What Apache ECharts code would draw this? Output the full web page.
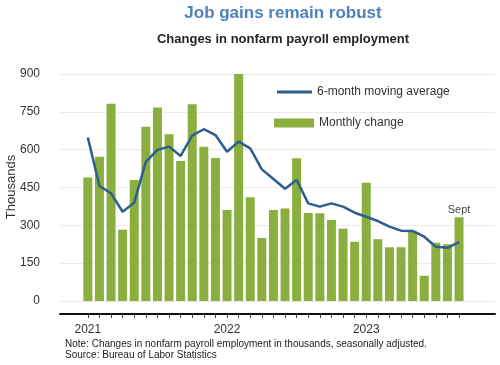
<!DOCTYPE html>
<html>
<head>
<meta charset="utf-8">
<script src="https://cdn.jsdelivr.net/npm/echarts@6/dist/echarts.min.js"></script>
<style>html,body{margin:0;padding:0;background:#fff;}#c{width:500px;height:365px;}</style>
</head>
<body>
<div id="c"></div>
<script>
// Months Jan 2021 .. Sep 2023
const months = ['Jan 2021','Feb 2021','Mar 2021','Apr 2021','May 2021','Jun 2021','Jul 2021','Aug 2021','Sep 2021','Oct 2021','Nov 2021','Dec 2021',
  'Jan 2022','Feb 2022','Mar 2022','Apr 2022','May 2022','Jun 2022','Jul 2022','Aug 2022','Sep 2022','Oct 2022','Nov 2022','Dec 2022',
  'Jan 2023','Feb 2023','Mar 2023','Apr 2023','May 2023','Jun 2023','Jul 2023','Aug 2023','Sep 2023'];
const monthlyChange = [490,572,782,283,480,691,767,661,555,780,612,567,
  361,904,411,250,361,367,566,349,348,321,287,235,
  469,245,213,213,275,100,231,225,332];
const movingAverage = [648,456,427,354,390,552,599,612,575,657,681,658,
  592,632,605,522,484,445,480,387,374,387,374,350,
  334,317,295,279,278,255,215,211,233];
const yearLabels = {0:'2021', 12:'2022', 24:'2023'};
const yTicks = [0,150,300,450,600,750,900];
const lastLabel = 'Sept';
const yAxisTitle = 'Thousands';

const barData = monthlyChange.map((v,i)=> i===monthlyChange.length-1
  ? {value:[i,v], label:{show:true, position:'top', distance:2, formatter:lastLabel, color:'#444', fontSize:11, fontFamily:'Liberation Sans'}}
  : [i,v]);
const lineData = movingAverage.map((v,i)=>[i,v]);

const chart = echarts.init(document.getElementById('c'), null, {renderer:'canvas'});
chart.setOption({
  animation:false,
  textStyle:{fontFamily:'Liberation Sans'},
  title:[
    {text:'Job gains remain robust', left:278, top:0, textAlign:'center',
     textStyle:{color:'#4F81BD', fontSize:17, fontWeight:'bold', fontFamily:'Liberation Sans'}},
    {text:'Changes in nonfarm payroll employment', left:278, top:28, textAlign:'center',
     textStyle:{color:'#262626', fontSize:13, fontWeight:'bold', fontFamily:'Liberation Sans'}},
    {text:'Note: Changes in nonfarm payroll employment in thousands, seasonally adjusted.\nSource: Bureau of Labor Statistics',
     left:60, top:334, textStyle:{color:'#222', fontSize:10, fontWeight:'normal', lineHeight:10.5, fontFamily:'Liberation Sans'}}
  ],
  graphic:[
    {type:'text', x:11, y:187, rotation:Math.PI/2,
     style:{text:yAxisTitle, fill:'#333', fontSize:13, fontFamily:'Liberation Sans', align:'center', verticalAlign:'middle'}}
  ],
  legend:[
    {data:['6-month moving average'], left:277, top:86, padding:0, icon:'rect', itemWidth:35, itemHeight:3, itemGap:6,
     textStyle:{color:'#333', fontSize:12, fontFamily:'Liberation Sans'}},
    {data:['Monthly change'], left:274, top:117, padding:0, icon:'rect', itemWidth:40, itemHeight:9, itemGap:4,
     textStyle:{color:'#333', fontSize:12, fontFamily:'Liberation Sans'}}
  ],
  grid:{left:60, right:5, top:74, bottom:64, outerBoundsMode:'none', containLabel:false},
  xAxis:{
    type:'value', min:-2.4, max:35.1, offset:13,
    splitLine:{show:false},
    axisLine:{show:true, onZero:false, lineStyle:{color:'#111', width:2}},
    axisTick:{show:true, customValues:months.map((m,i)=>i), length:4, lineStyle:{color:'#444', width:1}},
    axisLabel:{show:true, customValues:Object.keys(yearLabels).map(Number), formatter:v=>yearLabels[v]||'',
      color:'#333', fontSize:12, margin:10, fontFamily:'Liberation Sans'}
  },
  yAxis:{
    type:'value', min:0, max:900, interval:150,
    axisLine:{show:false}, axisTick:{show:false},
    axisLabel:{color:'#333', fontSize:12, margin:20, fontFamily:'Liberation Sans'},
    splitLine:{lineStyle:{color:'#ebebeb', width:1}}
  },
  series:[
    {name:'Monthly change', type:'bar', data:barData, barWidth:9,
     itemStyle:{color:'#8BAF3F'}, z:2},
    {name:'6-month moving average', type:'line', data:lineData, symbol:'none',
     lineStyle:{color:'#2E5D8E', width:2.5}, itemStyle:{color:'#2E5D8E'}, z:3}
  ]
});
</script>
</body>
</html>
